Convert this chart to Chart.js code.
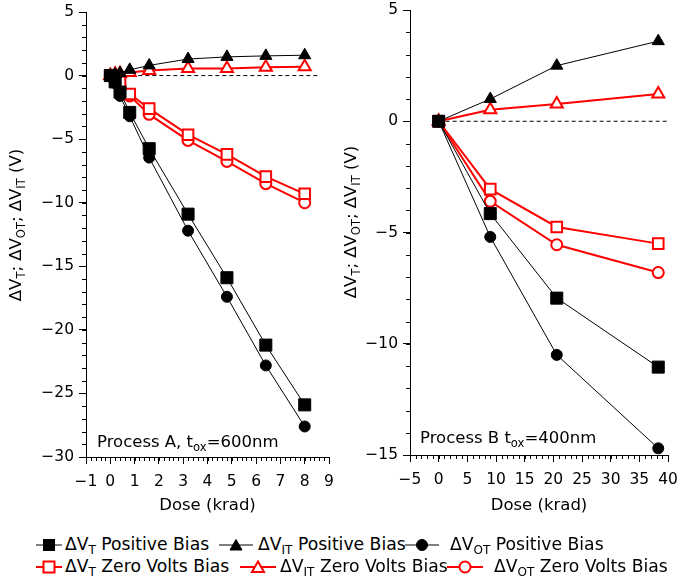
<!DOCTYPE html>
<html lang="en">
  <head>
    <meta charset="utf-8" />
    <title>Threshold voltage shift vs dose</title>
    <style>
      * {
        margin: 0;
        padding: 0;
      }
      body {
        width: 677px;
        height: 581px;
        overflow: hidden;
        background: #fff;
        position: relative;
        font-family: "DejaVu Sans", sans-serif;
      }
      .box {
        position: absolute;
        top: -30px;
        width: 370px;
        height: 550px;
      }
      #boxA { left: 0; }
      #boxB { left: 340px; }
      #legend {
        position: absolute;
        left: 0;
        top: 0;
        font-size: 17.2px;
        color: #000;
      }
      .item {
        position: absolute;
        white-space: nowrap;
        line-height: 20px;
      }
      .item svg { display: block; }
      sub {
        font-size: 0.7em;
        vertical-align: -0.3em;
        line-height: 0;
      }
    </style>
  </head>
  <body>
    <div class="box" id="boxA"><canvas id="chartA" width="370" height="550"></canvas></div>
    <div class="box" id="boxB"><canvas id="chartB" width="370" height="550"></canvas></div>
    <div id="legend"></div>

    <script src="https://cdn.jsdelivr.net/npm/chart.js"></script>

    <script>
      // Process A (t_ox = 600nm)
      const doseA = [0, 0.2, 0.4, 0.8, 1.6, 3.2, 4.8, 6.4, 8];
      const vtPosA = [0, -0.5, -1.3, -2.9, -5.75, -10.9, -15.9, -21.2, -25.9];
      const itPosA = [0, 0.1, 0.2, 0.45, 0.8, 1.3, 1.47, 1.55, 1.6];
      const otPosA = [0, -0.6, -1.6, -3.2, -6.45, -12.2, -17.4, -22.8, -27.6];
      const vtZeroA = [0, -0.15, -0.5, -1.45, -2.6, -4.65, -6.2, -7.95, -9.3];
      const itZeroA = [0, 0.1, 0.15, 0.25, 0.4, 0.55, 0.55, 0.65, 0.7];
      const otZeroA = [0, -0.35, -0.8, -1.6, -3.05, -5.1, -6.75, -8.5, -10.0];

      // Process B (t_ox = 400nm)
      const doseB = [0, 9, 20.6, 38.3];
      const vtPosB = [0, -4.15, -7.95, -11.05];
      const itPosB = [0, 1.0, 2.5, 3.6];
      const otPosB = [0, -5.2, -10.5, -14.7];
      const vtZeroB = [0, -3.05, -4.75, -5.5];
      const itZeroB = [0, 0.52, 0.78, 1.22];
      const otZeroB = [0, -3.6, -5.55, -6.8];

      const RED = "#ff0000";
      const FONT = '"DejaVu Sans", sans-serif';

      // legend entries: [subscript, text, color, pointStyle, handle left, handle width, text left, row]
      const legendItems = [
        ["T", " Positive Bias", "#000", "rect", 36, 26, 65, 0],
        ["IT", " Positive Bias", "#000", "triangle", 219, 34, 258, 0],
        ["OT", " Positive Bias", "#000", "circle", 405, 34, 450, 0],
        ["T", " Zero Volts Bias", RED, "rect", 36, 26, 65, 1],
        ["IT", " Zero Volts Bias", RED, "triangle", 240, 36, 280, 1],
        ["OT", " Zero Volts Bias", RED, "circle", 447, 36, 494, 1],
      ];

      function pts(xs, ys) {
        return xs.map((x, i) => ({ x, y: ys[i] }));
      }

      function minus(v) {
        return v < 0 ? "\u2212" + Math.abs(v) : String(v);
      }

      function makeSets(dose, vt, it, ot, vtz, itz, otz, zeroEnd) {
        const black = (data, style, r) => ({
          data: pts(dose, data),
          borderColor: "#000",
          backgroundColor: "#000",
          borderWidth: 1,
          pointStyle: style,
          pointRadius: r,
          pointBorderWidth: 1,
        });
        const red = (data, style, r) => ({
          data: pts(dose, data),
          borderColor: RED,
          backgroundColor: "#fff",
          pointBackgroundColor: "#fff",
          borderWidth: 2,
          pointStyle: style,
          pointRadius: r,
          pointBorderWidth: 2,
        });
        return [
          black(vt, "rect", 8.5),
          black(it, "triangle", 7),
          black(ot, "circle", 5.5),
          red(vtz, "rect", 7.5),
          red(itz, "triangle", 7),
          red(otz, "circle", 5.5),
          {
            data: [
              { x: 0, y: 0 },
              { x: zeroEnd, y: 0 },
            ],
            borderColor: "#000",
            borderDash: [4, 3],
            borderWidth: 1,
            pointRadius: 0,
          },
        ];
      }

      // text with subscripts: parts = [[text, isSub], ...]
      function drawRich(ctx, parts, x, y, size, center) {
        const widths = parts.map(([t, sub]) => {
          ctx.font = (sub ? size * 0.7 : size) + "px " + FONT;
          return ctx.measureText(t).width;
        });
        const total = widths.reduce((a, b) => a + b, 0);
        let cx = center ? x - total / 2 : x;
        parts.forEach(([t, sub], i) => {
          ctx.font = (sub ? size * 0.7 : size) + "px " + FONT;
          ctx.fillText(t, cx, sub ? y + size * 0.25 : y);
          cx += widths[i];
        });
      }

      const yTitle = [
        ["\u0394V", false], ["T", true], ["; \u0394V", false], ["OT", true],
        ["; \u0394V", false], ["IT", true], [" (V)", false],
      ];

      // minor ticks, y axis title and the process note
      const decorations = {
        id: "decorations",
        afterDraw(chart, args, opts) {
          const { ctx, chartArea, scales: { x, y } } = chart;
          ctx.save();
          ctx.strokeStyle = "#000";
          ctx.lineWidth = 1;
          ctx.beginPath();
          for (let v = x.min; v <= x.max + 1e-9; v += opts.minorX) {
            const px = Math.round(x.getPixelForValue(v)) + 0.5;
            ctx.moveTo(px, chartArea.bottom);
            ctx.lineTo(px, chartArea.bottom + 4);
          }
          for (let v = y.min; v <= y.max + 1e-9; v += opts.minorY) {
            const py = Math.round(y.getPixelForValue(v)) + 0.5;
            ctx.moveTo(chartArea.left, py);
            ctx.lineTo(chartArea.left - 4, py);
          }
          ctx.stroke();

          ctx.fillStyle = "#000";
          ctx.textBaseline = "alphabetic";
          ctx.textAlign = "left";
          drawRich(ctx, opts.note, opts.noteX, opts.noteY, 16.5, false);

          ctx.translate(opts.titleX, opts.titleY);
          ctx.rotate(-Math.PI / 2);
          drawRich(ctx, yTitle, 0, 0, 16.5, true);
          ctx.restore();
        },
      };

      function makeChart(id, sets, o) {
        return new Chart(document.getElementById(id), {
          type: "line",
          data: { datasets: sets },
          options: {
            responsive: false,
            animation: false,
            events: [],
            layout: { padding: { top: o.top, right: o.right, left: 0, bottom: 0 } },
            plugins: {
              legend: { display: false },
              tooltip: { enabled: false },
              decorations: o.deco,
            },
            scales: {
              x: {
                type: "linear",
                min: o.xMin,
                max: o.xMax,
                afterFit: (s) => { s.height = o.xHeight; },
                ticks: {
                  stepSize: o.xStep,
                  autoSkip: false,
                  maxRotation: 0,
                  padding: 9,
                  color: "#000",
                  font: { family: FONT, size: 15.5 },
                  callback: minus,
                },
                grid: { drawOnChartArea: false, tickLength: 7, tickColor: "#000" },
                border: { color: "#000", width: 1 },
                title: {
                  display: true,
                  text: "Dose (krad)",
                  color: "#000",
                  font: { family: FONT, size: 16.5 },
                  padding: { top: 0, bottom: 4 },
                },
              },
              y: {
                type: "linear",
                min: o.yMin,
                max: o.yMax,
                afterFit: (s) => { s.width = o.yWidth; },
                ticks: {
                  stepSize: 5,
                  padding: 5,
                  color: "#000",
                  font: { family: FONT, size: 15.5 },
                  callback: minus,
                },
                grid: { drawOnChartArea: false, tickLength: 7, tickColor: "#000" },
                border: { color: "#000", width: 1 },
              },
            },
          },
          plugins: [decorations],
        });
      }

      // canvases sit 30px above the page top so the padding is never overridden
      makeChart(
        "chartA",
        makeSets(doseA, vtPosA, itPosA, otPosA, vtZeroA, itZeroA, otZeroA, 8.6),
        {
          top: 42, right: 41, xMin: -1, xMax: 9, xStep: 1, xHeight: 63,
          yMin: -30, yMax: 5, yWidth: 86,
          deco: {
            minorX: 0.2, minorY: 1,
            note: [["Process A, t", false], ["ox", true], ["=600nm", false]],
            noteX: 97, noteY: 477, titleX: 21, titleY: 255,
          },
        }
      );

      makeChart(
        "chartB",
        makeSets(doseB, vtPosB, itPosB, otPosB, vtZeroB, itZeroB, otZeroB, 40),
        {
          top: 40, right: 42, xMin: -5, xMax: 40, xStep: 5, xHeight: 65,
          yMin: -15, yMax: 5, yWidth: 70,
          deco: {
            minorX: 1, minorY: 1,
            note: [["Process B t", false], ["ox", true], ["=400nm", false]],
            noteX: 80, noteY: 473, titleX: 16, titleY: 252,
          },
        }
      );

      // legend with subscripts, built as html
      function handle(color, style, w) {
        const red = color !== "#000";
        const lw = red ? 2 : 1;
        const fill = red ? "#fff" : "#000";
        const c = w / 2;
        let mark = "";
        if (style === "rect") {
          mark = `<rect x="${c - 5.5}" y="1.5" width="11" height="11" fill="${fill}" stroke="${color}" stroke-width="${lw}"/>`;
        } else if (style === "triangle") {
          mark = `<polygon points="${c},1.5 ${c + 6},12 ${c - 6},12" fill="${fill}" stroke="${color}" stroke-width="${lw}"/>`;
        } else {
          mark = `<circle cx="${c}" cy="7" r="5.5" fill="${fill}" stroke="${color}" stroke-width="${lw}"/>`;
        }
        return `<svg width="${w}" height="14"><line x1="0" y1="7" x2="${w}" y2="7" stroke="${color}" stroke-width="${lw}"/>${mark}</svg>`;
      }

      const rowCenters = [545, 567];
      const legend = document.getElementById("legend");
      legendItems.forEach(([sub, text, color, style, hx, hw, tx, row]) => {
        const h = document.createElement("div");
        h.className = "item";
        h.style.left = hx + "px";
        h.style.top = rowCenters[row] - 7 + "px";
        h.innerHTML = handle(color, style, hw);
        legend.appendChild(h);

        const t = document.createElement("div");
        t.className = "item";
        t.style.left = tx + "px";
        t.style.top = rowCenters[row] - 11 + "px";
        t.innerHTML = `\u0394V<sub>${sub}</sub>${text}`;
        legend.appendChild(t);
      });
    </script>
  </body>
</html>
